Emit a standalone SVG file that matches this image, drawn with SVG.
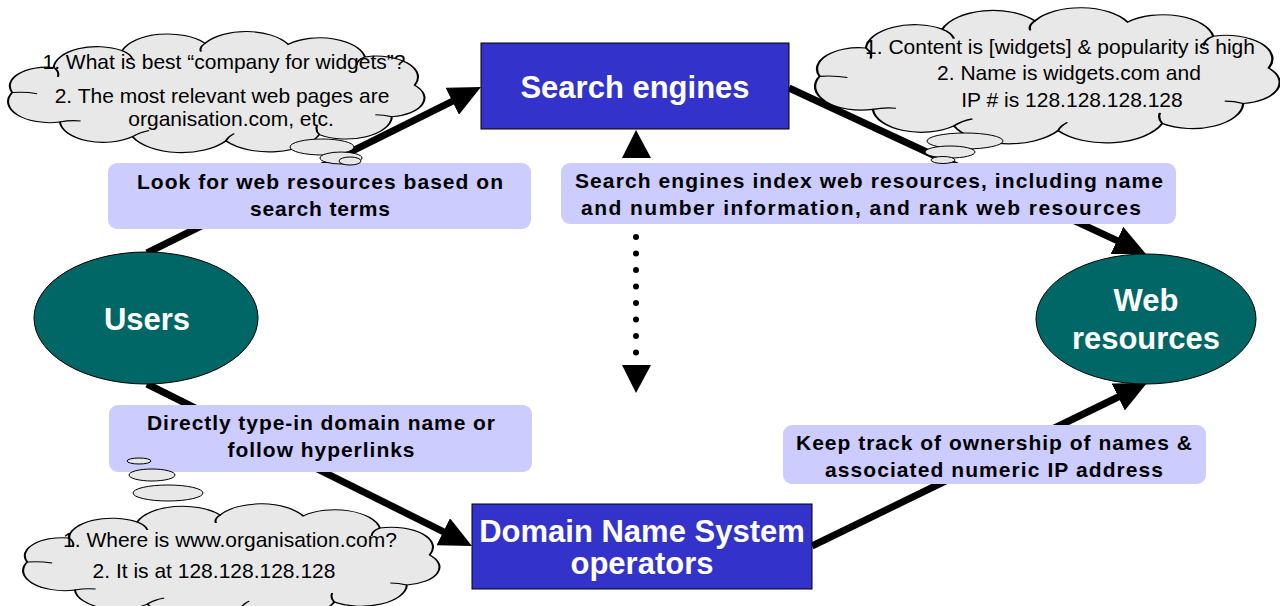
<svg xmlns="http://www.w3.org/2000/svg" width="1280" height="606" viewBox="0 0 1280 606">
<style>
.box{fill:#3333CC;stroke:#000;stroke-width:1}
.ell{fill:#006666;stroke:#000;stroke-width:1}
.nt{font-family:"Liberation Sans",Arial,sans-serif;font-weight:bold;font-size:31px;fill:#fff;text-anchor:middle}
.lab{fill:#CCCCFF;stroke:none}
.lt{font-family:"Liberation Sans",Arial,sans-serif;font-weight:bold;font-size:21px;fill:#000;text-anchor:middle}
.ct{font-family:"Liberation Sans",Arial,sans-serif;font-size:21px;fill:#000;text-anchor:middle}
.cl{fill:#E8E8E8;stroke:#000;stroke-width:1;vector-effect:non-scaling-stroke}
.ci{fill:none;stroke:#000;stroke-width:1;vector-effect:non-scaling-stroke}
.bub{fill:#E8E8E8;stroke:#000;stroke-width:1}
.con{stroke:#000;stroke-width:7;fill:none}
.dot{stroke:#000;stroke-width:6;stroke-linecap:round;stroke-dasharray:0 16.5;fill:none}
.head{fill:#000}
</style>
<defs>
<marker id="ah" markerUnits="userSpaceOnUse" markerWidth="32" markerHeight="30" refX="24" refY="15" orient="auto">
<path d="M0,0 L32,15 L0,30 Z" fill="#000"/>
</marker>
<path id="cloud" d="M2,52 A18,18 0 0 1 22,28 A21,21 0 0 1 55,12 A23,23 0 0 1 95,5 A23,23 0 0 1 135,6 A22,22 0 0 1 172,18 A20,20 0 0 1 196,45 A18,18 0 0 1 185,75 A22,22 0 0 1 150,92 A26,26 0 0 1 105,98 A26,26 0 0 1 60,94 A21,21 0 0 1 25,80 A20,20 0 0 1 2,52 Z"/>
<path id="cloudin" d="M22,28 q3,4 2,9 M55,12 q4,3 5,8 M95,5 q-3,4 -2,8 M172,18 q-4,3 -4,8 M185,75 q-4,-2 -8,-2 M150,92 q-2,-4 -1,-9 M105,98 q1,-4 4,-7 M60,94 q3,-4 8,-6 M25,80 q5,-2 10,-1 M2,52 q6,-1 12,1"/>
</defs>

<g id="connectors">
<line class="con" x1="147" y1="253" x2="473.8" y2="90.6" marker-end="url(#ah)"/>
<line class="con" x1="789" y1="88" x2="1138.7" y2="250.6" marker-end="url(#ah)"/>
<line class="con" x1="147" y1="384" x2="464.8" y2="542.4" marker-end="url(#ah)"/>
<line class="con" x1="812" y1="546" x2="1139.8" y2="386.5" marker-end="url(#ah)"/>
<line class="dot" x1="636" y1="154.5" x2="636" y2="365"/>
<polygon class="head" points="636,130 622,158 651,158"/>
<polygon class="head" points="636,393 622,365 651,365"/>
</g>

<g id="search-engines">
<rect class="box" x="481" y="43" width="308" height="86"/>
<text class="nt" x="635" y="98">Search engines</text>
</g>

<g id="dns-operators">
<rect class="box" x="472" y="504" width="340" height="85"/>
<text class="nt" x="642" y="542" font-size="30">Domain Name System</text>
<text class="nt" x="642" y="574" font-size="30">operators</text>
</g>

<g id="users">
<ellipse class="ell" cx="146" cy="318" rx="112" ry="66"/>
<text class="nt" x="147" y="330">Users</text>
</g>

<g id="web-resources">
<ellipse class="ell" cx="1146" cy="319" rx="110" ry="65"/>
<text class="nt" x="1146" y="311">Web</text>
<text class="nt" x="1146" y="349">resources</text>
</g>

<g id="label-search-terms">
<rect class="lab" x="108" y="163" width="423" height="66" rx="9"/>
<text class="lt" x="320" y="189" textLength="366" lengthAdjust="spacing">Look for web resources based on</text>
<text class="lt" x="320" y="216" textLength="140" lengthAdjust="spacing">search terms</text>
</g>

<g id="label-index">
<rect class="lab" x="561" y="163" width="615" height="61" rx="9"/>
<text class="lt" x="869" y="188" textLength="588" lengthAdjust="spacing">Search engines index web resources, including name</text>
<text class="lt" x="861" y="215" textLength="560" lengthAdjust="spacing">and number information, and rank web resources</text>
</g>

<g id="label-type-in">
<rect class="lab" x="109" y="405" width="423" height="67" rx="9"/>
<text class="lt" x="321" y="430" textLength="348" lengthAdjust="spacing">Directly type-in domain name or</text>
<text class="lt" x="321" y="457" textLength="187" lengthAdjust="spacing">follow hyperlinks</text>
</g>

<g id="label-ownership">
<rect class="lab" x="783" y="425" width="423" height="59" rx="9"/>
<text class="lt" x="994" y="450" textLength="396" lengthAdjust="spacing">Keep track of ownership of names &amp;</text>
<text class="lt" x="994" y="477" textLength="338" lengthAdjust="spacing">associated numeric IP address</text>
</g>

<g id="cloud-users">
<g transform="translate(8,38) scale(2.075,1.05)">
<use href="#cloud" class="cl"/>
<use href="#cloudin" class="ci"/>
</g>
<ellipse class="bub" cx="322" cy="147" rx="32" ry="8"/>
<ellipse class="bub" cx="341" cy="158" rx="21" ry="6"/>
<ellipse class="bub" cx="350" cy="161" rx="11" ry="4"/>
<text class="ct" x="224" y="69">1. What is best “company for widgets”?</text>
<text class="ct" x="222" y="103">2. The most relevant web pages are</text>
<text class="ct" x="231" y="126">organisation.com, etc.</text>
</g>

<g id="cloud-search">
<g transform="translate(815,15) scale(2.315,1.18)">
<use href="#cloud" class="cl"/>
<use href="#cloudin" class="ci"/>
</g>
<ellipse class="bub" cx="965" cy="141" rx="38" ry="8"/>
<ellipse class="bub" cx="950" cy="152" rx="25" ry="6"/>
<ellipse class="bub" cx="943" cy="160" rx="12" ry="3.5"/>
<text class="ct" x="1060" y="54">1. Content is [widgets] &amp; popularity is high</text>
<text class="ct" x="1069" y="80">2. Name is widgets.com and</text>
<text class="ct" x="1072" y="107">IP # is 128.128.128.128</text>
</g>

<g id="cloud-dns">
<g transform="translate(23,510) scale(2.075,1.0)">
<use href="#cloud" class="cl"/>
<use href="#cloudin" class="ci"/>
</g>
<ellipse class="bub" cx="139" cy="461" rx="12" ry="3"/>
<ellipse class="bub" cx="152" cy="475" rx="23" ry="6"/>
<ellipse class="bub" cx="168" cy="493" rx="35" ry="8"/>
<text class="ct" x="230" y="547">1. Where is www.organisation.com?</text>
<text class="ct" x="214" y="578">2. It is at 128.128.128.128</text>
</g>
</svg>
